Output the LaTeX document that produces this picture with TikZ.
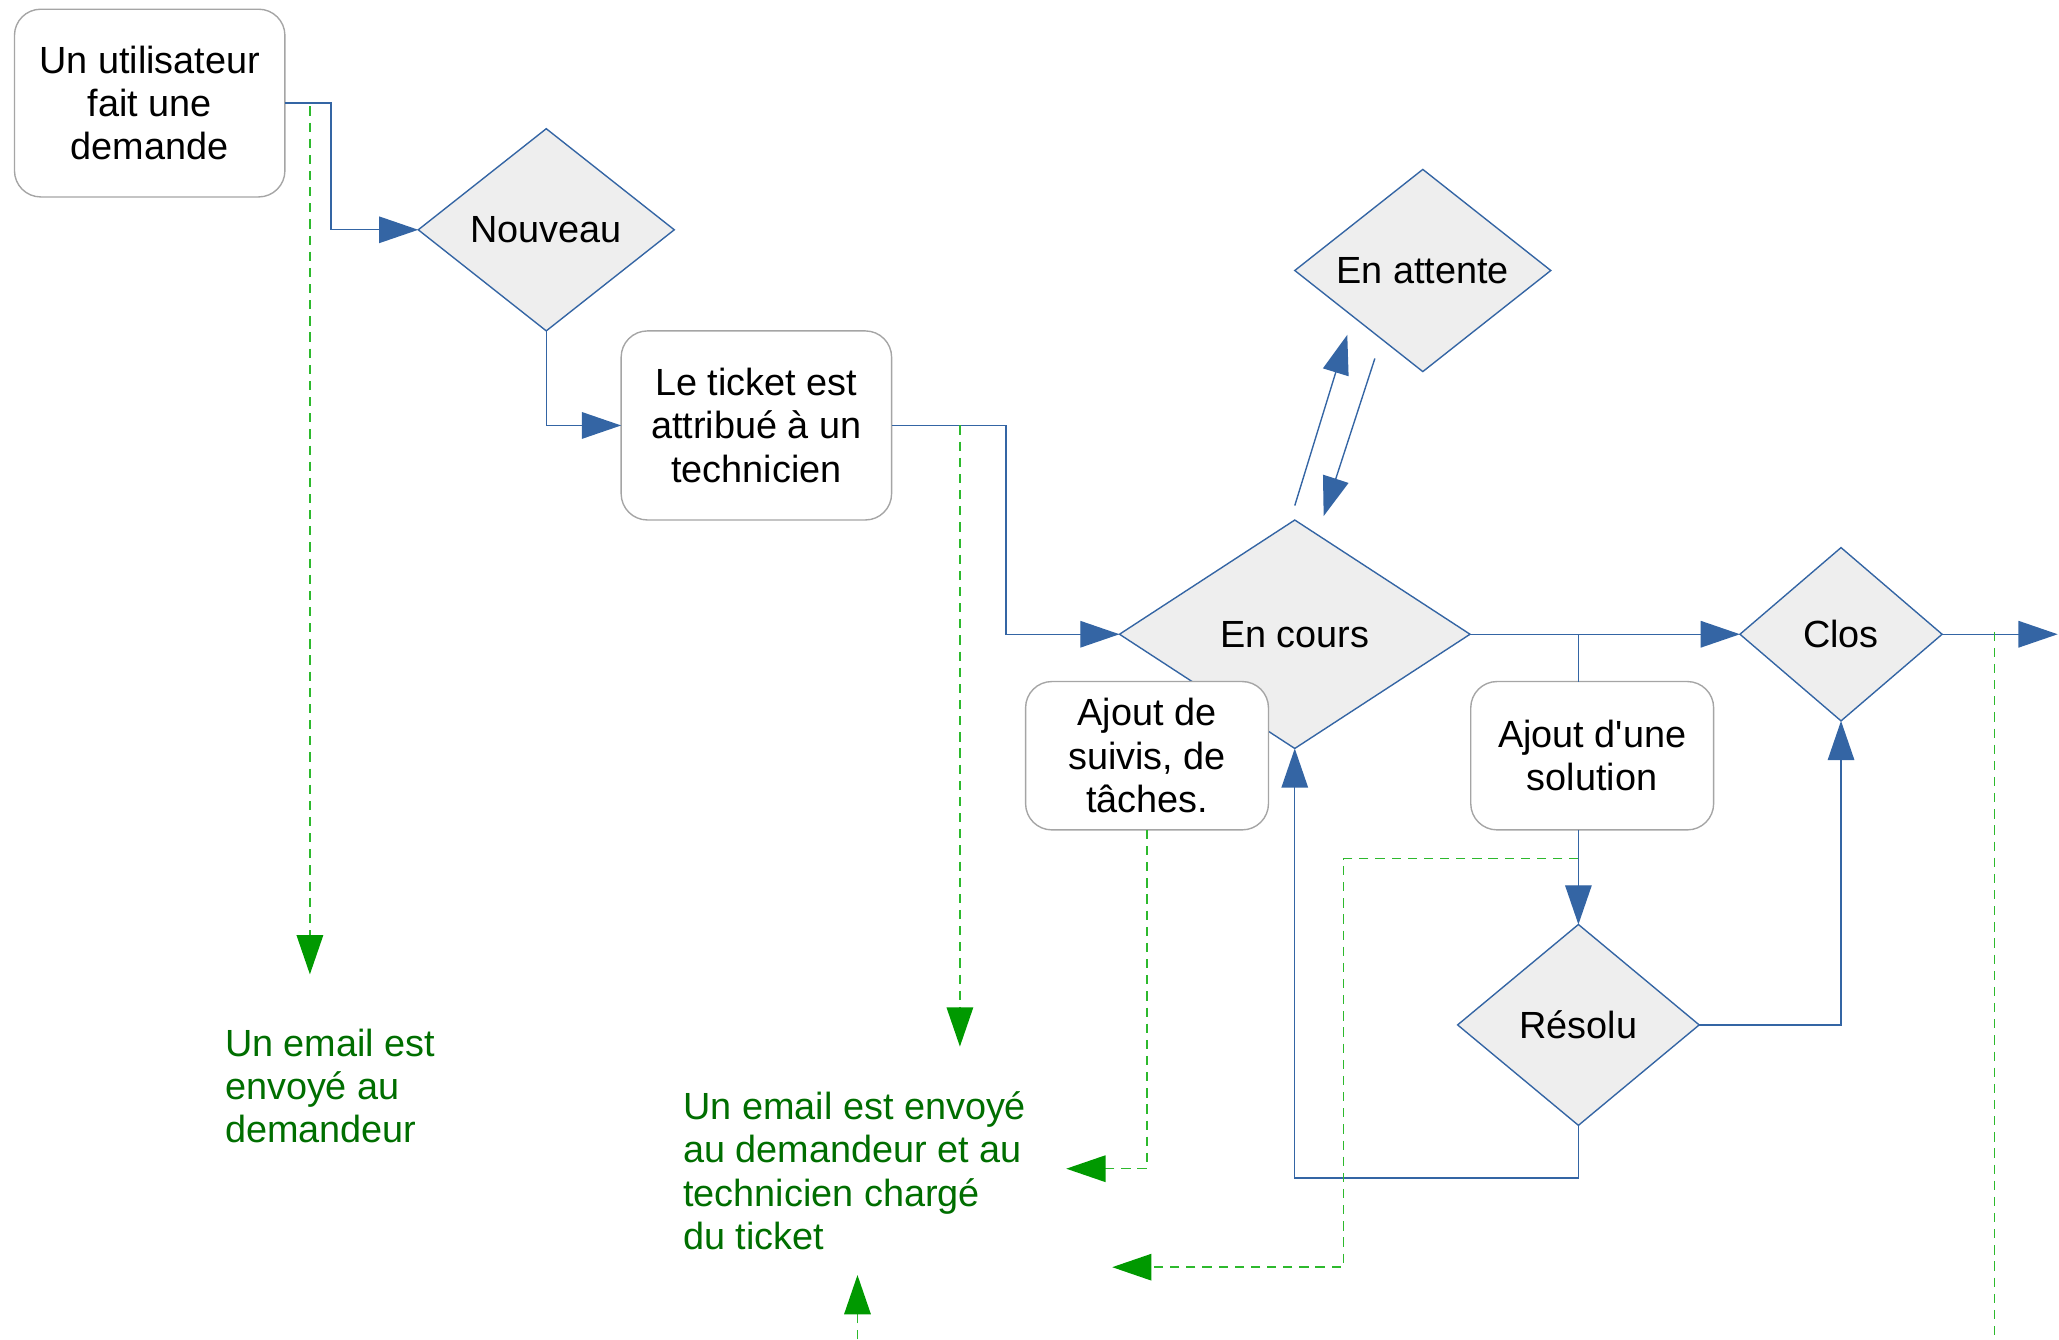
\documentclass[tikz,border=0pt]{standalone}
\usepackage{fontspec}
\setmainfont{Liberation Sans}
\usetikzlibrary{arrows.meta, shapes.geometric, positioning, calc}
\definecolor{flowblue}{RGB}{52,101,164}
\definecolor{flowgray}{RGB}{165,165,165}
\definecolor{statefill}{RGB}{238,238,238}
\definecolor{maildash}{RGB}{45,185,45}
\definecolor{mailtip}{RGB}{0,153,0}
\definecolor{mailtext}{RGB}{0,110,0}

\begin{document}
\begin{tikzpicture}[
  x=0.02cm, y=-0.02cm,
  font=\fontsize{16.4}{18.8}\selectfont,
  stepbox/.style={draw=flowgray, fill=white, line width=0.6pt, rounded corners=0.4cm, align=center, inner sep=2pt, outer sep=0pt},
  state/.style={diamond, draw=flowblue, fill=statefill, line width=0.6pt, aspect=1.2, inner sep=1pt, outer sep=0pt},
  link/.style={draw=flowblue, line width=0.6pt},
  arrow/.style={link, -{Triangle[length=17pt, width=11.5pt]}},
  mail/.style={draw=maildash, line width=0.6pt, dash pattern=on 4pt off 3pt, -{Triangle[length=17pt, width=11.5pt, color=mailtip]}},
  mailnote/.style={text=mailtext, align=left, anchor=west, inner sep=0pt}
]
  \useasboundingbox (0,0) rectangle (1568,1020);

  % States and steps
  \node[stepbox, minimum width=4.12cm, minimum height=2.86cm] (demande) at (114,78.5) {Un utilisateur\\fait une\\demande};
  \node[state, minimum width=3.9cm, minimum height=3.08cm] (nouveau) at (416,175) {Nouveau};
  \node[stepbox, minimum width=4.12cm, minimum height=2.88cm] (attribue) at (576,324) {Le ticket est\\attribué à un\\technicien};
  \node[state, minimum width=5.34cm, minimum height=3.48cm] (encours) at (986,483) {En cours};
  \node[state, minimum width=3.9cm, minimum height=3.08cm] (attente) at (1083.5,206) {En attente};
  \node[state, minimum width=3.08cm, minimum height=2.64cm, aspect=1] (clos) at (1402,483) {Clos};
  \node[stepbox, minimum width=3.7cm, minimum height=2.26cm] (suivis) at (873.5,575.5) {Ajout de\\suivis, de\\tâches.};
  \node[stepbox, minimum width=3.7cm, minimum height=2.26cm] (solution) at (1212.5,575.5) {Ajout d\textquotesingle une\\solution};
  \node[state, minimum width=3.68cm, minimum height=3.06cm] (resolu) at (1202,780.5) {Résolu};

  % Email notes
  \node[mailnote] (mailun) at (171,827) {Un email est\\envoyé au\\demandeur};
  \node[mailnote] (maildeux) at (520,891.5) {Un email est envoyé\\au demandeur et au\\technicien chargé\\du ticket};

  % Free ends
  \coordinate (sortie) at (1567,483);
  \coordinate (m1s) at (236,81);
  \coordinate (m1e) at (236,742);
  \coordinate (m2s) at (731,324);
  \coordinate (m2e) at (731,797);
  \coordinate (m3e) at (812,890);
  \coordinate (m4s) at (1202,654);
  \coordinate (m4e) at (847,965);
  \coordinate (m5s) at (653,1020);
  \coordinate (m5e) at (653,971);
  \coordinate (m6s) at (1519,481);
  \coordinate (m6e) at (1519,1020);

  % Flow
  \draw[arrow] (demande.east) -- ++(35,0) |- (nouveau.west);
  \draw[arrow] (nouveau.south) |- (attribue.west);
  \draw[arrow] (attribue.east) -- ++(87,0) |- (encours.west);
  \draw[arrow] ($(encours.north)+(0,-11)$) -- ($(attente.south)+(-57.5,-28)$);
  \draw[arrow] ($(attente.south)+(-36.5,-10)$) -- ($(encours.north)+(22,-3)$);
  \draw[arrow] (encours.east) -- (clos.west);
  \draw[link] (encours.east -| resolu.north) -- (resolu.north |- solution.north);
  \draw[arrow] (resolu.north |- solution.south) -- (resolu.north);
  \draw[arrow] (resolu.east) -| (clos.south);
  \draw[arrow] (resolu.south) -- ++(0,40) -| (encours.south);
  \draw[arrow] (clos.east) -- (sortie);

  % Emails
  \draw[mail] (m1s) -- (m1e);
  \draw[mail] (m2s) -- (m2e);
  \draw[mail] (suivis.south) |- (m3e);
  \draw[mail] (m4s) -- ++(-179,0) |- (m4e);
  \draw[mail] (m5s) -- (m5e);
  \draw[mail, -] (m6s) -- (m6e);
\end{tikzpicture}
\end{document}
